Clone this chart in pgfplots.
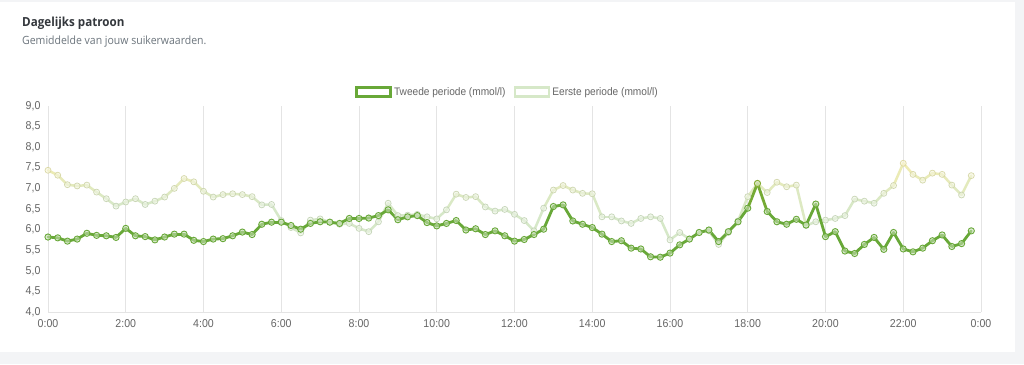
\documentclass[border=0pt]{standalone}
\usepackage{pgfplots}
\pgfplotsset{compat=1.18}
\usepackage{pgfplotstable}
\usepackage{fontspec}
\setmainfont{Liberation Sans}[FakeStretch=0.93]
\newfontfamily\titlefont{Open Sans}[FakeStretch=0.93]
\definecolor{bggray}{RGB}{243,244,246}
\definecolor{gridgray}{RGB}{228,228,228}
\definecolor{labelgray}{RGB}{102,102,102}
\definecolor{titlecol}{RGB}{51,55,60}
\definecolor{subcol}{RGB}{108,117,125}
\definecolor{tweede}{RGB}{104,168,56}
\definecolor{eerste}{RGB}{214,232,200}
\pgfplotsset{
  colormap={twe}{rgb255=(104,168,56) rgb255=(155,175,40)},
  colormap={eer}{rgb255=(214,232,200) rgb255=(242,236,175)},
}
\pgfplotstableread{
x y
0 5.82
0.25 5.80
0.5 5.72
0.75 5.77
1 5.91
1.25 5.86
1.5 5.85
1.75 5.81
2 6.03
2.25 5.85
2.5 5.83
2.75 5.75
3 5.82
3.25 5.89
3.5 5.89
3.75 5.74
4 5.71
4.25 5.77
4.5 5.78
4.75 5.85
5 5.94
5.25 5.88
5.5 6.13
5.75 6.18
6 6.18
6.25 6.10
6.5 6.01
6.75 6.15
7 6.19
7.25 6.18
7.5 6.15
7.75 6.27
8 6.27
8.25 6.28
8.5 6.34
8.75 6.48
9 6.24
9.25 6.31
9.5 6.34
9.75 6.17
10 6.09
10.25 6.15
10.5 6.22
10.75 5.99
11 6.02
11.25 5.88
11.5 5.97
11.75 5.85
12 5.72
12.25 5.76
12.5 5.88
12.75 6.01
13 6.56
13.25 6.60
13.5 6.21
13.75 6.13
14 6.05
14.25 5.89
14.5 5.71
14.75 5.73
15 5.55
15.25 5.53
15.5 5.34
15.75 5.33
16 5.43
16.25 5.63
16.5 5.77
16.75 5.93
17 5.99
17.25 5.71
17.5 5.95
17.75 6.19
18 6.52
18.25 7.12
18.5 6.44
18.75 6.19
19 6.13
19.25 6.25
19.5 6.11
19.75 6.62
20 5.83
20.25 5.95
20.5 5.48
20.75 5.42
21 5.64
21.25 5.81
21.5 5.52
21.75 5.93
22 5.53
22.25 5.46
22.5 5.55
22.75 5.73
23 5.87
23.25 5.59
23.5 5.66
23.75 5.97
}\tweededata
\pgfplotstableread{
x y
0 7.44
0.25 7.32
0.5 7.09
0.75 7.06
1 7.08
1.25 6.91
1.5 6.75
1.75 6.57
2 6.67
2.25 6.75
2.5 6.61
2.75 6.69
3 6.79
3.25 7.00
3.5 7.24
3.75 7.16
4 6.93
4.25 6.79
4.5 6.85
4.75 6.87
5 6.85
5.25 6.80
5.5 6.60
5.75 6.61
6 6.22
6.25 6.05
6.5 5.92
6.75 6.23
7 6.26
7.25 6.18
7.5 6.13
7.75 6.15
8 6.03
8.25 5.95
8.5 6.19
8.75 6.64
9 6.34
9.25 6.35
9.5 6.37
9.75 6.31
10 6.26
10.25 6.48
10.5 6.86
10.75 6.78
11 6.80
11.25 6.55
11.5 6.45
11.75 6.49
12 6.37
12.25 6.22
12.5 5.97
12.75 6.52
13 6.96
13.25 7.07
13.5 6.96
13.75 6.88
14 6.87
14.25 6.31
14.5 6.31
14.75 6.21
15 6.15
15.25 6.27
15.5 6.31
15.75 6.27
16 5.75
16.25 5.93
16.5 5.77
16.75 5.93
17 5.97
17.25 5.64
17.5 5.93
17.75 6.21
18 6.80
18.25 7.12
18.5 6.90
18.75 7.15
19 7.04
19.25 7.08
19.5 6.10
19.75 6.19
20 6.23
20.25 6.27
20.5 6.34
20.75 6.74
21 6.69
21.25 6.64
21.5 6.88
21.75 7.07
22 7.61
22.25 7.34
22.5 7.20
22.75 7.37
23 7.34
23.25 7.08
23.5 6.84
23.75 7.31
}\eerstedata
\begin{document}
\begin{tikzpicture}[x=1pt,y=1pt]
\fill[bggray] (0,0) rectangle (1024,364);
\fill[white] (0,12) rectangle (1015,362);
\node[anchor=base west, inner sep=0pt, text=titlecol, font=\titlefont\bfseries\fontsize{12.5}{14}\selectfont] at (22,337) {Dagelijks patroon};
\node[anchor=base west, inner sep=0pt, text=subcol, font=\titlefont\fontsize{11.3}{13}\selectfont] at (22,319.5) {Gemiddelde van jouw suikerwaarden.};
\begin{axis}[
  at={(48pt,52pt)}, anchor=south west,
  scale only axis, width=933pt, height=206pt,
  xmin=0, xmax=24, ymin=4, ymax=9,
  axis x line*=bottom, axis y line*=left,
  axis line style={-, draw=gridgray, line width=1pt},
  xtick={0,2,...,24},
  xticklabels={0:00,2:00,4:00,6:00,8:00,10:00,12:00,14:00,16:00,18:00,20:00,22:00,0:00},
  ytick={4,4.5,...,9},
  yticklabels={{4,0},{4,5},{5,0},{5,5},{6,0},{6,5},{7,0},{7,5},{8,0},{8,5},{9,0}},
  xmajorgrids, major grid style={draw=gridgray, line width=1pt},
  major tick length=0pt,
  tick label style={font=\fontsize{11.4}{13}\selectfont, text=labelgray},
  xticklabel style={yshift=-4pt},
  yticklabel style={xshift=-4pt},
  clip=false,
  legend image code/.code={\draw[#1, line width=2.8pt, fill=white] (-1pt,-4.5pt) rectangle (33pt,4.5pt);},
  legend style={at={(0.4925,1.068)}, anchor=center, draw=none, fill=none,
    legend columns=2, font=\fontsize{10.9}{12}\selectfont, text=labelgray,
    /tikz/every even column/.append style={column sep=6pt}, inner sep=0pt},
  legend cell align=left,
]
\addlegendimage{draw=tweede}
\addlegendentry{Tweede periode (mmol/l)}
\addlegendimage{draw=eerste}
\addlegendentry{Eerste periode (mmol/l)}
% Eerste periode (behind)
\addplot[mesh, colormap name=eer, point meta=\thisrow{y}, point meta min=6.9, point meta max=7.6,
  line width=2.5pt, line cap=round, line join=round, forget plot] table[x=x,y=y] {\eerstedata};
\addplot[scatter, only marks, mark=*, mark size=3pt, colormap name=eer, point meta=\thisrow{y},
  point meta min=6.9, point meta max=7.6,
  scatter/use mapped color={draw=mapped color!92!black, fill=mapped color!45!white, fill opacity=0.6, line width=0.7pt},
  forget plot] table[x=x,y=y] {\eerstedata};
% Tweede periode (front)
\addplot[mesh, colormap name=twe, point meta=\thisrow{y}, point meta min=6.6, point meta max=7.2,
  line width=2.8pt, line cap=round, line join=round, forget plot] table[x=x,y=y] {\tweededata};
\addplot[scatter, only marks, mark=*, mark size=3.1pt, colormap name=twe, point meta=\thisrow{y},
  point meta min=6.6, point meta max=7.2,
  scatter/use mapped color={draw=mapped color, fill=mapped color!35!white, fill opacity=0.55, line width=0.9pt},
  forget plot] table[x=x,y=y] {\tweededata};
\end{axis}
\end{tikzpicture}
\end{document}
